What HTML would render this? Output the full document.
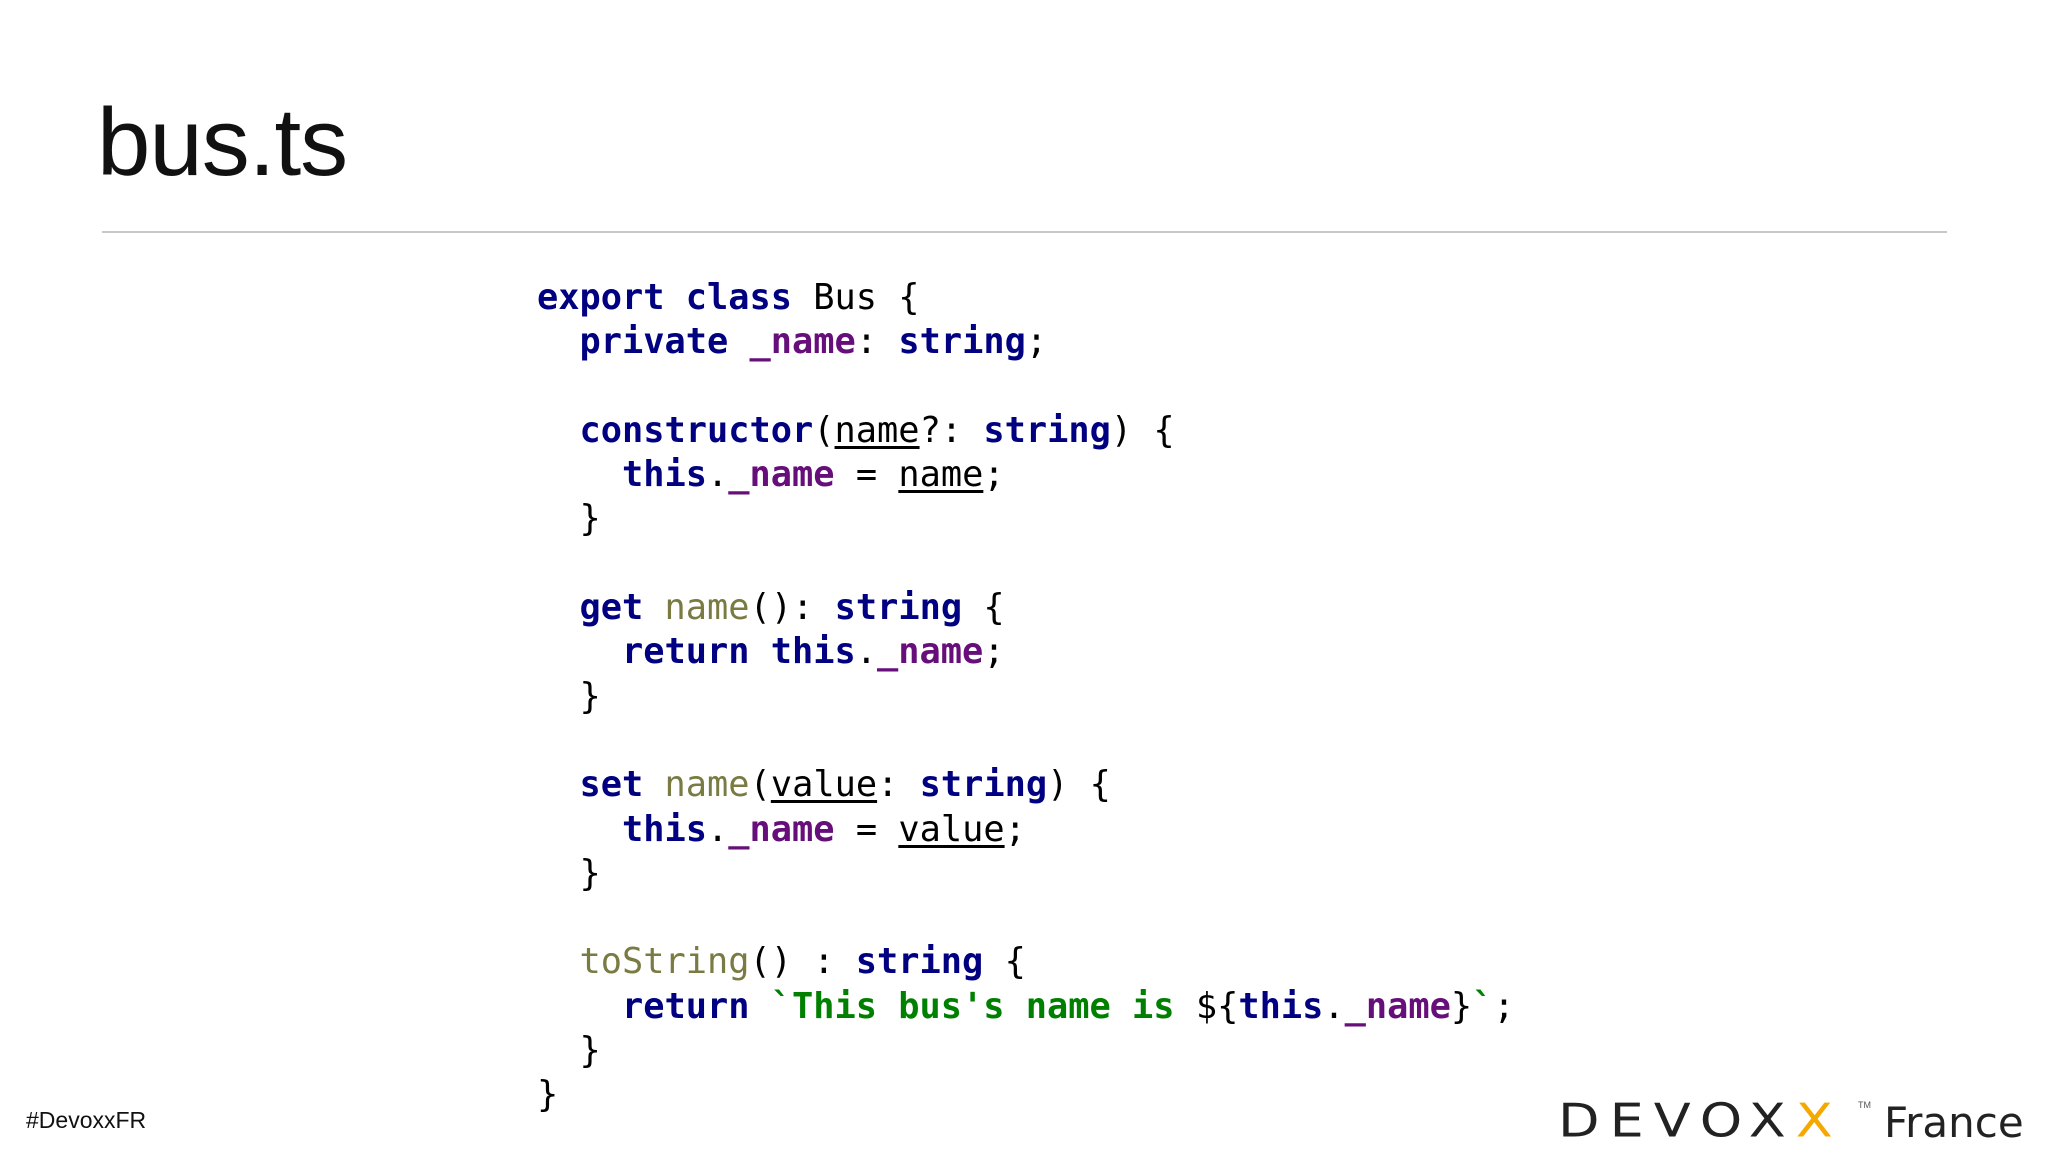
<!DOCTYPE html>
<html><head><meta charset="utf-8"><style>
html,body{margin:0;padding:0;background:#fff;}
body{width:2048px;height:1152px;position:relative;overflow:hidden;font-family:"Liberation Sans",sans-serif;}
.title{position:absolute;left:97px;top:88px;font-size:96px;color:#111;letter-spacing:-1px;}
.rule{position:absolute;left:102px;top:231px;width:1845px;height:2px;background:#c8c8c8;}
pre{position:absolute;left:537px;top:276px;margin:0;font-family:"DejaVu Sans Mono","Liberation Mono",monospace;font-size:35.3px;line-height:44.3px;color:#000;}
.k{color:#000080;font-weight:bold;}
.p{color:#660e7a;font-weight:bold;}
.f{color:#7a7a43;}
.s{color:#008000;font-weight:bold;}
u{text-decoration:underline;text-underline-offset:4px;}
.tag{position:absolute;left:26px;top:1107px;font-size:23px;color:#111;}
.logo{position:absolute;left:1558px;top:1094px;font-size:54px;letter-spacing:10px;color:#222;font-family:"DejaVu Sans","Liberation Sans",sans-serif;transform:scaleY(0.85);transform-origin:top left;}
.logo span{color:#f5a800;}
.fr{position:absolute;left:1884px;top:1098px;font-size:42px;color:#222;font-family:"DejaVu Sans",sans-serif;}
.tm{position:absolute;left:1858px;top:1100px;font-size:9px;color:#555;}
</style></head><body>
<div class="title">bus.ts</div>
<div class="rule"></div>
<pre><span class="k">export class</span> Bus {
  <span class="k">private</span> <span class="p">_name</span>: <span class="k">string</span>;

  <span class="k">constructor</span>(<u>name</u>?: <span class="k">string</span>) {
    <span class="k">this</span>.<span class="p">_name</span> = <u>name</u>;
  }

  <span class="k">get</span> <span class="f">name</span>(): <span class="k">string</span> {
    <span class="k">return this</span>.<span class="p">_name</span>;
  }

  <span class="k">set</span> <span class="f">name</span>(<u>value</u>: <span class="k">string</span>) {
    <span class="k">this</span>.<span class="p">_name</span> = <u>value</u>;
  }

  <span class="f">toString</span>() : <span class="k">string</span> {
    <span class="k">return</span> <span class="s">`This bus's name is </span>${<span class="k">this</span>.<span class="p">_name</span>}<span class="s">`</span>;
  }
}</pre>
<div class="tag">#DevoxxFR</div>
<div class="logo">DEVOX<span>X</span></div>
<div class="tm">TM</div>
<div class="fr">France</div>
</body></html>
